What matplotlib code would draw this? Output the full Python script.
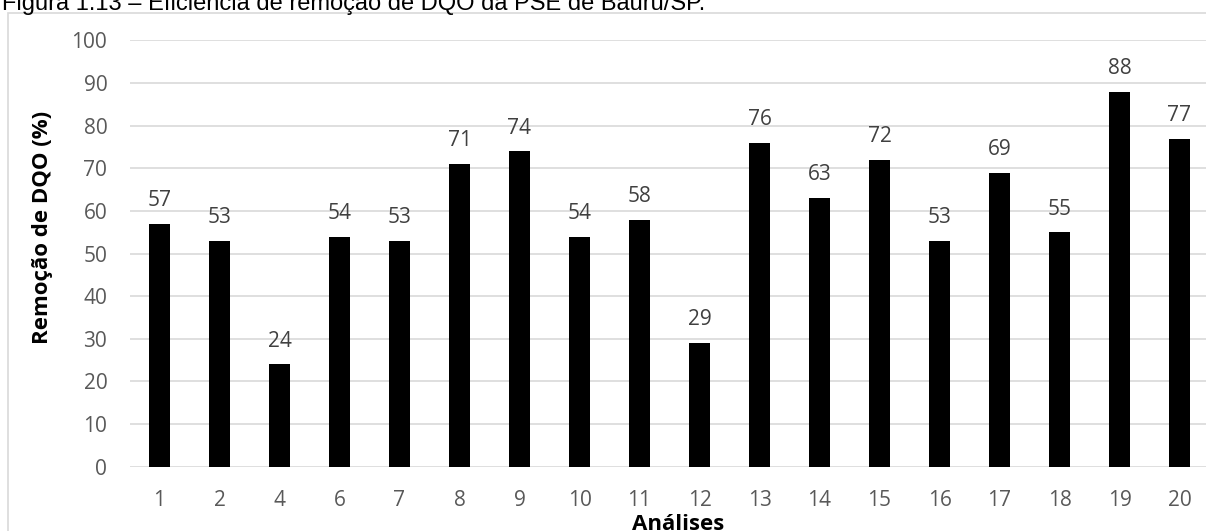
import matplotlib.pyplot as plt
from matplotlib.patches import Rectangle

# dados da figura
analises = ['1', '2', '4', '6', '7', '8', '9', '10', '11', '12',
            '13', '14', '15', '16', '17', '18', '19', '20']
remocao = [57, 53, 24, 54, 53, 71, 74, 54, 58, 29,
           76, 63, 72, 53, 69, 55, 88, 77]
y_ticks = [0, 10, 20, 30, 40, 50, 60, 70, 80, 90, 100]

W, H = 1206, 531
fig = plt.figure(figsize=(W / 100, H / 100), dpi=100)

# caixa do grafico (cortada na imagem)
fig.patches.append(Rectangle((8 / W, -0.1), 1.2, 1 - 12.5 / H + 0.1,
                             transform=fig.transFigure, fill=False,
                             edgecolor='#d9d9d9', linewidth=1.2))

fig.text(2 / W, 1 - 10 / H, 'Figura 1.13 – Eficiência de remoção de DQO da PSE de Bauru/SP.',
         fontsize=17, family='Liberation Sans', color='#000000', va='baseline', ha='left')

ax = fig.add_axes([129.5 / W, 1 - 466.7 / H, 1080 / W, (466.7 - 40.5) / H])
x = list(range(len(analises)))
ax.bar(x, remocao, width=0.34, color='black', zorder=3)
for xi, v in zip(x, remocao):
    ax.text(xi, v + 3.0, str(v), ha='center', va='bottom', fontsize=15,
            family='Open Sans', color='#404040')

ax.set_xlim(-0.5, len(analises) - 0.5)
ax.set_ylim(0, 100)
ax.set_yticks(y_ticks)
ax.set_xticks(x)
ax.set_xticklabels(analises)
ax.grid(axis='y', color='#d9d9d9', linewidth=1.2, zorder=0)
for s in ax.spines.values():
    s.set_visible(False)
ax.tick_params(length=0, labelsize=15, colors='#595959')
ax.tick_params(axis='x', pad=17)
ax.tick_params(axis='y', pad=16)
for lbl in ax.get_xticklabels() + ax.get_yticklabels():
    lbl.set_family('Open Sans')

ax.set_xlabel('Análises', fontsize=16, fontweight='bold', family='Open Sans',
              color='black', va='baseline')
ax.xaxis.set_label_coords(0.5 + (678 - 669.5) / 1080, -(530 - 466.7) / 426.2)
ax.set_ylabel('Remoção de DQO (%)', fontsize=16, fontweight='bold', family='Open Sans',
              color='black', va='center')
ax.yaxis.set_label_coords((43 - 129.5) / 1080, (466.7 - 227) / 426.2)

fig.savefig('out.png', dpi=100)
